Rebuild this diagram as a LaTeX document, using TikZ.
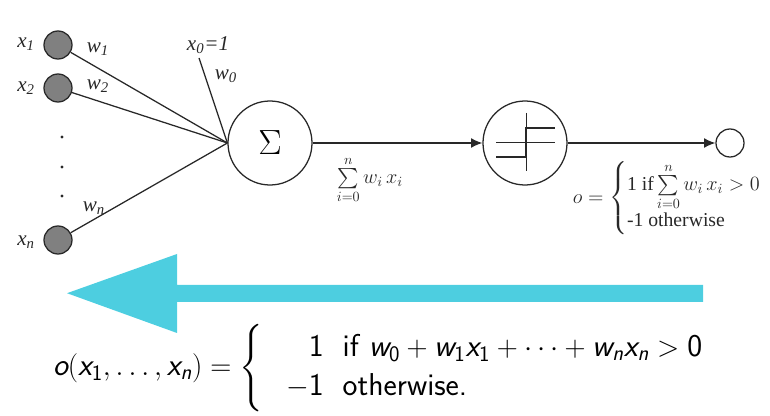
\documentclass[tikz,border=0pt]{standalone}
\usepackage{amsmath}
\usepackage{fontspec}
\usepackage{tikz}
\usetikzlibrary{arrows,arrows.meta,shapes,positioning,calc}
\usepackage{xcolor}
\newfontfamily\tmfont{Liberation Serif}
\definecolor{pcyan}{RGB}{77,206,224}
\definecolor{pgray}{RGB}{128,128,128}
\definecolor{pline}{RGB}{40,40,40}
\tikzstyle{input} = [circle,draw=pline,line width=0.9pt,fill=pgray,minimum size=0.7cm,inner sep=0pt]
\tikzstyle{unit} = [circle,draw=pline,line width=0.9pt,fill=white,minimum size=2.1cm,inner sep=0pt]
\tikzstyle{wire} = [line width=0.9pt,color=pline]
\tikzstyle{arrow} = [line width=0.9pt,-{Latex[length=8pt,width=7pt]},color=pline]
\tikzstyle{lbl} = [font=\tmfont\itshape\fontsize{15}{17}\selectfont,text=pline,inner sep=1pt]
\newcommand{\sv}[1]{\text{\sffamily\slshape #1}}

\begin{document}
\begin{tikzpicture}
\useasboundingbox (0,0) rectangle (19.25,-10.4);

% Inputs
\node[input] (in1) at (1.45,-1.125) {};
\node[input] (in2) at (1.45,-2.2) {};
\node[input] (inn) at (1.45,-6.0) {};
\node[lbl] (lx1) at (0.65,-1.1) {x\textsubscript{1}};
\node[lbl] (lx2) at (0.65,-2.2) {x\textsubscript{2}};
\node[lbl] (lxn) at (0.65,-6.05) {x\textsubscript{n}};
\foreach \y in {-3.425,-4.175,-4.9}
  \fill[pline] (1.55,\y) circle (1.2pt);

% Units
\node[unit] (sum) at (6.75,-3.575) {\fontsize{38}{38}\selectfont$\Sigma$};
\node[unit] (thr) at (13.125,-3.575) {};
\node[circle,draw=pline,line width=0.9pt,minimum size=0.7cm,inner sep=0pt] (out) at (18.25,-3.575) {};

% Weights
\coordinate (bias) at (4.975,-1.45);
\draw[wire] (in1) -- (sum.west);
\draw[wire] (in2) -- (sum.west);
\draw[wire] (inn) -- (sum.west);
\draw[wire] (bias) -- (sum.west);
\node[lbl] (lw1) at (2.45,-1.22) {w\textsubscript{1}};
\node[lbl] (lw2) at (2.45,-2.15) {w\textsubscript{2}};
\node[lbl] (lwn) at (2.35,-5.2) {w\textsubscript{n}};
\node[lbl] (lw0) at (5.65,-1.9) {w\textsubscript{0}};
\node[lbl] (lx0) at (5.2,-1.12) {x\textsubscript{0}=1};

% Step function
\draw[pline, line width=0.6pt] ($(thr)+(0.025,0.75)$) -- ($(thr)+(0.025,-0.7)$);
\draw[pline, line width=0.6pt] ($(thr)+(-0.725,0.025)$) -- ($(thr)+(0.75,0.025)$);
\draw[pline, line width=2pt] ($(thr)+(-0.725,-0.35)$) -- ($(thr)+(0.025,-0.35)$)
  -- ($(thr)+(0.025,0.375)$) -- ($(thr)+(0.75,0.375)$);

\draw[arrow] (sum) -- (thr);
\draw[arrow] (thr) -- (out);

% Formulas
\node[font=\Large,text=pline] (sumf) at (9.25,-4.5) {$\sum\limits_{i=0}^{n} w_i\,x_i$};
\node[font=\tmfont\fontsize{14}{16}\selectfont,text=pline] (outf) at (16.68,-4.95)
  {$o = \left\{\begin{array}{@{}l@{}} \text{1 if} \sum\limits_{i=0}^{n} w_i\,x_i > 0 \\[0pt] \text{-1 otherwise}\end{array}\right.$};

% Training arrow
\fill[pcyan] (17.575,-7.125) -- (4.425,-7.125) -- (4.425,-6.35) -- (1.675,-7.33)
  -- (4.425,-8.325) -- (4.425,-7.55) -- (17.575,-7.55) -- cycle;

\node[font=\fontsize{22.5}{28}\selectfont\sffamily] (rule) at (9.55,-9.2)
  {$\sv{o}(\sv{x}_{\mathsf{1}},\ldots,\sv{x}_{\sv{n}}) = \left\{\;\;\begin{array}{r@{\hspace{0.6em}}l} \mathsf{1} & \text{if } \sv{w}_{\mathsf{0}} + \sv{w}_{\mathsf{1}}\sv{x}_{\mathsf{1}} + \cdots + \sv{w}_{\sv{n}}\sv{x}_{\sv{n}} > \mathsf{0}\\ -\mathsf{1} & \text{otherwise.}\end{array}\right.$};
\end{tikzpicture}
\end{document}
